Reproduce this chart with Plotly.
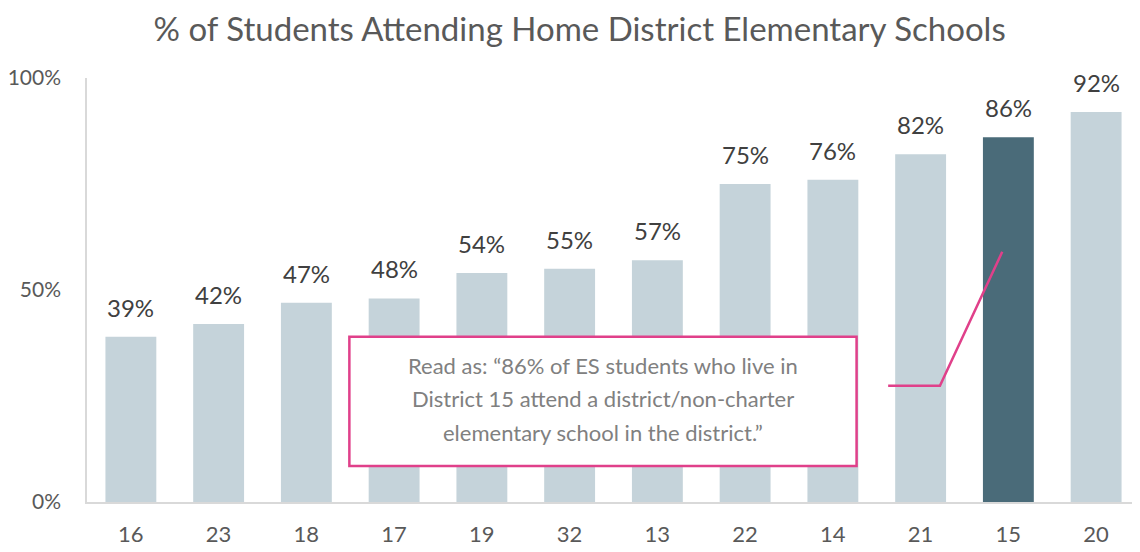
import plotly.graph_objects as go

districts = ["16", "23", "18", "17", "19", "32", "13", "22", "14", "21", "15", "20"]
pct_attending = [0.39, 0.42, 0.47, 0.48, 0.54, 0.55, 0.57, 0.75, 0.76, 0.82, 0.86, 0.92]
highlight = "15"
note_lines = [
    "Read as: “86% of ES students who live in",
    "District 15 attend a district/non-charter",
    "elementary school in the district.”",
]

light = "#c5d3da"
dark = "#4a6b79"
colors = [dark if d == highlight else light for d in districts]

FONT = "Lato"

fig = go.Figure(go.Bar(
    x=districts, y=pct_attending,
    marker=dict(color=colors, line=dict(width=0)),
    width=0.58,
))

# value labels above bars (category index positions)
for i, v in enumerate(pct_attending):
    fig.add_annotation(xref="x", yref="y", x=i, y=v, yanchor="bottom", yshift=13,
                       showarrow=False, text=f"{round(v*100)}%",
                       font=dict(family=FONT, size=24, color="#404040"))

pink = "#e0408a"
# callout box (data coordinates)
fig.add_shape(type="rect", xref="x", yref="y", x0=2.49, x1=8.27, y0=0.085, y1=0.39,
              line=dict(color=pink, width=2.5), fillcolor="white", layer="above")
for line_text, yy in zip(note_lines, [0.321, 0.245, 0.165]):
    fig.add_annotation(xref="x", yref="y", x=5.38, y=yy, showarrow=False,
                       text=line_text,
                       font=dict(family=FONT, size=22, color="#808080"), align="center")
fig.add_shape(type="path", xref="x", yref="y",
              path="M 8.63 0.274 L 9.22 0.274 L 9.93 0.59",
              line=dict(color=pink, width=2.5), layer="above")

fig.update_layout(
    width=1132, height=544,
    margin=dict(l=79, r=0, t=70, b=50),
    paper_bgcolor="white", plot_bgcolor="white",
    title=dict(text="% of Students Attending Home District Elementary Schools",
               x=0.505, xanchor="center", y=0.9614, yanchor="middle",
               font=dict(family=FONT, size=33, color="#595959")),
    showlegend=False,
    bargap=0.42,
    xaxis=dict(type="category", showline=True, linecolor="#d9d9d9", linewidth=1.5, ticks="",
               tickfont=dict(family=FONT, size=22, color="#595959"),
               ticklabelstandoff=12),
    yaxis=dict(range=[0, 1], tickvals=[0, 0.5, 1], tickformat=".0%",
               showline=True, linecolor="#d9d9d9", linewidth=1.5, showgrid=False,
               zeroline=False, ticks="",
               tickfont=dict(family=FONT, size=21, color="#595959"),
               ticklabelstandoff=20),
)

fig.write_html("out.html")
